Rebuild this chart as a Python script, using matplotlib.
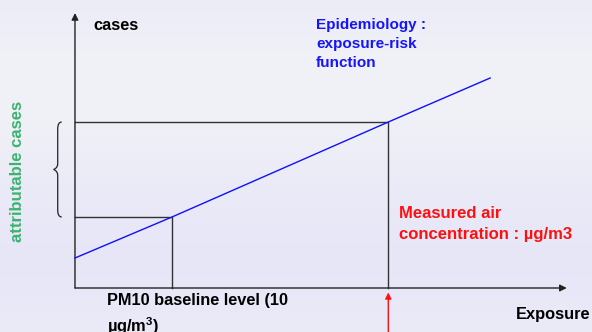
import numpy as np
import matplotlib
matplotlib.use("Agg")
import matplotlib.pyplot as plt
from matplotlib.path import Path
from matplotlib.patches import PathPatch

plt.rcParams['font.family'] = ['Liberation Sans', 'DejaVu Sans']
plt.rcParams['mathtext.fontset'] = 'custom'
plt.rcParams['mathtext.rm'] = 'Liberation Sans:bold'
plt.rcParams['mathtext.bf'] = 'Liberation Sans:bold'

# exposure-risk function (exposure in ug/m3, cases in arbitrary units)
exposure_line = [0, 10, 32.3, 42.8]
cases_line = [3.0, 7.1, 16.6, 21.0]

baseline_exposure = 10
baseline_cases = 7.1
measured_exposure = 32.3
measured_cases = 16.6

x_axis_end = 50.7
y_axis_end = 27.5

W, H = 592, 332
fig = plt.figure(figsize=(W / 100, H / 100), dpi=100)
ax = fig.add_axes([0, 0, 1, 1])
ax.set_xlim(-7.73, 53.3)
ax.set_ylim(-4.4, 28.8)
ax.axis('off')

# soft lavender background
grad = np.linspace(0, 1, 200).reshape(-1, 1)
bg = np.zeros((200, 1, 3))
bg[..., 0] = 0.925 + 0.02 * np.sin(grad * 6)
bg[..., 1] = 0.925 + 0.02 * np.sin(grad * 6)
bg[..., 2] = 0.970
ax.imshow(bg, extent=[-7.73, 53.3, -4.4, 28.8], aspect='auto', zorder=0)

# axes with arrows
ax.annotate('', xy=(x_axis_end, 0), xytext=(0, 0),
            arrowprops=dict(arrowstyle='-|>', mutation_scale=10, lw=1, color='#222222',
                            shrinkA=0, shrinkB=0))
ax.annotate('', xy=(0, y_axis_end), xytext=(0, 0),
            arrowprops=dict(arrowstyle='-|>', mutation_scale=10, lw=1, color='#222222',
                            shrinkA=0, shrinkB=0))

# exposure-risk function
ax.plot(exposure_line, cases_line, color='#1010ff', lw=1, zorder=3)

# guide lines
ax.plot([0, baseline_exposure, baseline_exposure], [baseline_cases, baseline_cases, 0],
        color='#333333', lw=1, zorder=2)
ax.plot([0, measured_exposure, measured_exposure], [measured_cases, measured_cases, 0],
        color='#333333', lw=1, zorder=2)

# red arrow pointing at measured concentration
ax.annotate('', xy=(measured_exposure, -0.45), xytext=(measured_exposure, -4.4),
            arrowprops=dict(arrowstyle='-|>', mutation_scale=9, lw=1, color='#ff1010',
                            shrinkA=0, shrinkB=0))

# curly brace spanning the attributable cases
xe, xm, xt = -1.37, -1.78, -2.2
y0, y1 = baseline_cases, measured_cases
ym = (y0 + y1) / 2
verts = [(xe, y1), (xm, y1), (xm, y1 - 0.7),
         (xm, ym + 0.6),
         (xm, ym + 0.1), (xt, ym), (xt, ym),
         (xt, ym), (xm, ym - 0.1), (xm, ym - 0.6),
         (xm, y0 + 0.7),
         (xm, y0), (xe, y0)]
codes = [Path.MOVETO, Path.CURVE3, Path.CURVE3,
         Path.LINETO,
         Path.CURVE4, Path.CURVE4, Path.CURVE4,
         Path.CURVE4, Path.CURVE4, Path.CURVE4,
         Path.LINETO,
         Path.CURVE3, Path.CURVE3]
ax.add_patch(PathPatch(Path(verts, codes), fill=False, lw=0.9, color='#222222'))


def px(x, y):
    return x / W, 1 - y / H


ax.text(*px(93, 25), 'cases', transform=ax.transAxes, fontsize=11.8, fontweight='bold',
        va='center', ha='left', color='black')
ax.text(*px(18, 171), 'attributable cases', transform=ax.transAxes, fontsize=12,
        fontweight='bold', rotation=90, va='center', ha='center', color='#3cb371')
for i, line in enumerate(['Epidemiology :', 'exposure-risk', 'function']):
    ax.text(*px(316, 25 + 19 * i), line, transform=ax.transAxes, fontsize=11,
            fontweight='bold', va='center', ha='left', color='#1414ff')
for i, line in enumerate(['Measured air', 'concentration : µg/m3']):
    ax.text(*px(399, 213 + 22 * i), line, transform=ax.transAxes, fontsize=12,
            fontweight='bold', va='center', ha='left', color='#ff1010')
ax.text(*px(516, 315), 'Exposure', transform=ax.transAxes, fontsize=11.8,
        fontweight='bold', va='center', ha='left', color='black')
ax.text(*px(107, 300), 'PM10 baseline level (10', transform=ax.transAxes, fontsize=11.8,
        fontweight='bold', va='center', ha='left', color='black')
ax.text(*px(107, 332), 'µg/m$^{3}$)', transform=ax.transAxes, fontsize=11.8,
        fontweight='bold', va='baseline', ha='left', color='black')

fig.savefig('out.png', dpi=100)
